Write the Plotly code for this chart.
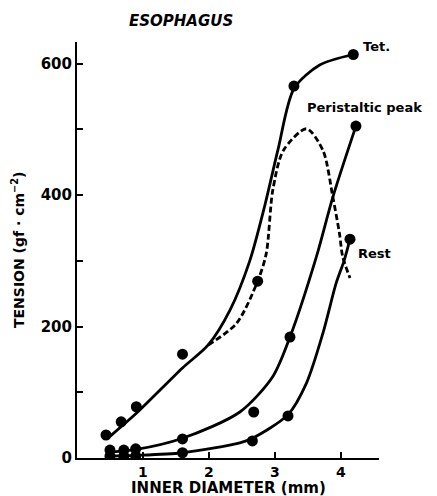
import plotly.graph_objects as go

# Measured points (inner diameter mm, tension gf/cm^2)
tet_x = [0.44, 0.67, 0.90, 1.60, 3.29, 4.19]
tet_y = [35, 55, 78, 158, 566, 614]
peak_pt_x = [2.74]
peak_pt_y = [269]
mid_x = [0.50, 0.71, 0.89, 1.60, 2.68, 3.23, 4.23]
mid_y = [12, 12, 14, 29, 70, 184, 505]
rest_x = [0.50, 0.71, 0.89, 1.60, 2.66, 3.20, 4.14]
rest_y = [3, 3, 3, 8, 26, 64, 333]

# Hand-drawn fitted curves
tet_cx = [0.50, 0.90, 1.60, 1.99, 2.32, 2.62, 2.85, 3.05, 3.29, 3.68, 4.19]
tet_cy = [33, 68, 137, 172, 225, 300, 385, 470, 562, 598, 614]
dash_cx = [1.99, 2.42, 2.74, 2.87, 2.97, 3.13, 3.48, 3.73, 3.88, 3.98, 4.03, 4.14]
dash_cy = [172, 205, 269, 311, 408, 468, 501, 468, 397, 342, 306, 274]
mid_cx = [0.50, 0.90, 1.60, 2.47, 2.97, 3.23, 3.63, 3.88, 4.23]
mid_cy = [9, 13, 30, 70, 124, 184, 306, 397, 505]
rest_cx = [0.50, 0.90, 1.60, 2.47, 2.66, 3.20, 3.48, 3.73, 3.93, 4.05, 4.14]
rest_cy = [3, 4, 8, 23, 30, 66, 114, 190, 266, 300, 333]

y_ticks = [0, 100, 200, 300, 400, 500, 600]
y_labels = ["0", "", "200", "", "400", "", "600"]
x_ticks = [1, 2, 3, 4]
x_labels = ["1", "2", "3", "4"]

FONT = "DejaVu Sans"
OFF = 8  # page body margin
W, H = 437 - OFF, 496 - OFF
L, T = 77 - OFF, 42 - OFF
R = W - (379 - OFF)
B = H - (458 - OFF)
PW, PH = W - L - R, H - T - B

def px(x):  # screen x -> paper
    return (x - OFF - L) / PW

def py(y):  # screen y -> paper
    return (H - B - (y - OFF)) / PH

fig = go.Figure()

def curve(x, y, dash="solid"):
    fig.add_trace(go.Scatter(x=x, y=y, mode="lines",
                             line=dict(color="black", width=2.8, shape="spline",
                                       smoothing=0.8, dash=dash),
                             hoverinfo="skip", showlegend=False))

def pts(x, y):
    fig.add_trace(go.Scatter(x=x, y=y, mode="markers",
                             marker=dict(color="black", size=11),
                             showlegend=False))

curve(tet_cx, tet_cy)
curve(dash_cx, dash_cy, dash="6px,3px")
curve(mid_cx, mid_cy)
curve(rest_cx, rest_cy)
pts(tet_x, tet_y)
pts(peak_pt_x, peak_pt_y)
pts(mid_x, mid_y)
pts(rest_x, rest_y)

def ann(text, x, y, size, xanchor="center", angle=0):
    return dict(text=text, x=px(x), y=py(y), xref="paper", yref="paper",
                xanchor=xanchor, yanchor="middle", textangle=angle,
                showarrow=False, font=dict(family=FONT, size=size, color="black"))

fig.update_layout(
    width=W, height=H,
    margin=dict(l=L, r=R, t=T, b=B, autoexpand=False),
    paper_bgcolor="white", plot_bgcolor="white",
    font=dict(family=FONT, color="black", size=15),
    xaxis=dict(range=[0, 4.58], tickvals=x_ticks, ticktext=x_labels,
               ticks="inside", ticklen=6, tickwidth=1.5, tickcolor="black",
               showline=True, linecolor="black", linewidth=2,
               showgrid=False, zeroline=False, automargin=False,
               ticklabelstandoff=0,
               tickfont=dict(family=FONT, size=14, color="black", weight="bold")),
    yaxis=dict(range=[0, 633], tickvals=y_ticks, ticktext=y_labels,
               ticks="inside", ticklen=6, tickwidth=1.5, tickcolor="black",
               showline=True, linecolor="black", linewidth=2,
               showgrid=False, zeroline=False, automargin=False,
               tickfont=dict(family=FONT, size=15, color="black", weight="bold")),
    annotations=[
        ann("<b><i>ESOPHAGUS</i></b>", 181, 21, 15),
        ann("<b>Tet.</b>", 361, 47, 13, xanchor="left"),
        ann("<b>Peristaltic peak</b>", 305, 107, 13, xanchor="left"),
        ann("<b>Rest</b>", 356, 253, 13, xanchor="left"),
        ann("<b>INNER DIAMETER (mm)</b>", 228, 488, 15),
        ann("<b>TENSION (gf · cm<sup>−2</sup>)</b>", 18, 250, 14, angle=-90),
    ],
)

fig.write_html("out.html")
